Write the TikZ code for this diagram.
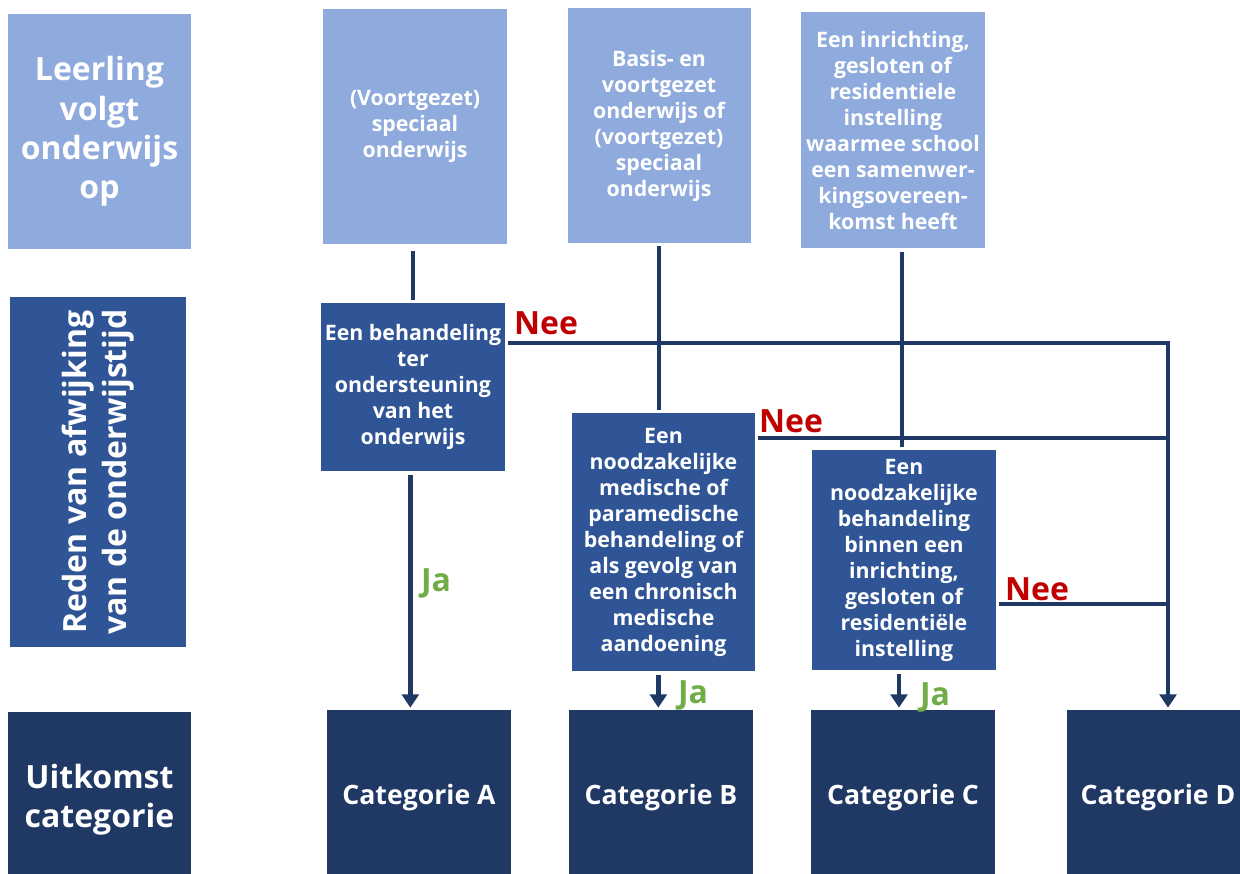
\documentclass[tikz,border=0pt]{standalone}
\usepackage{fontspec}
\setmainfont{Open Sans}
\usetikzlibrary{arrows.meta}
\definecolor{lichtblauw}{HTML}{8FAADC}
\definecolor{middenblauw}{HTML}{2F5597}
\definecolor{donkerblauw}{HTML}{1F3864}
\definecolor{neerood}{HTML}{C00000}
\definecolor{jagroen}{HTML}{70AD47}
\begin{document}
\begin{tikzpicture}[x=0.75pt,y=-0.75pt,
		blok/.style={rectangle, inner sep=0pt, text=white, align=center, font=\bfseries\fontsize{16}{19.5}\selectfont},
		maat/.style 2 args={minimum width=#1*0.75pt, minimum height=#2*0.75pt},
		kop/.style={blok, font=\bfseries\fontsize{24}{29.5}\selectfont},
		cat/.style={blok, fill=donkerblauw, font=\bfseries\fontsize{20}{24}\selectfont},
		lijn/.style={draw=donkerblauw, line width=3.6pt},
		pijl/.style={lijn, -{Triangle[width=12.5pt,length=10pt]}},
		nee/.style={text=neerood, font=\bfseries\fontsize{24}{28}\selectfont, inner sep=0pt},
		ja/.style={text=jagroen, font=\bfseries\fontsize{24}{28}\selectfont, inner sep=0pt}]
	\useasboundingbox (0,0) rectangle (1240,874);
	% linker kolom
	\node[kop, fill=lichtblauw, maat={183}{235}] (volgt) at (99.5,131.5) {Leerling\\volgt\\onderwijs\\op};
	\node[kop, fill=middenblauw, maat={350}{176}, rotate=90] (reden) at (98,472) {Reden van afwijking\\van de onderwijstijd};
	\node[kop, fill=donkerblauw, maat={183}{176}] (uitkomst) at (99.5,800) {Uitkomst\\categorie};
	% onderwijs
	\node[blok, fill=lichtblauw, maat={184}{235}] (vso) at (415,126.5) {(Voortgezet)\\speciaal\\onderwijs};
	\node[blok, fill=lichtblauw, maat={183}{235}] (basis) at (659,125.5) {Basis- en\\voortgezet\\onderwijs of\\(voortgezet)\\speciaal\\onderwijs};
	\node[blok, fill=lichtblauw, maat={184}{236}] (inrichting) at (893,130) {Een inrichting,\\gesloten of\\residentiele\\instelling\\waarmee school\\een samenwer-\\kingsovereen-\\komst heeft};
	% redenen
	\node[blok, fill=middenblauw, maat={184}{168}] (behA) at (413,387) {Een behandeling\\ter\\ondersteuning\\van het\\onderwijs};
	\node[blok, fill=middenblauw, maat={183}{258}] (behB) at (663.5,542) {Een\\noodzakelijke\\medische of\\paramedische\\behandeling of\\als gevolg van\\een chronisch\\medische\\aandoening};
	\node[blok, fill=middenblauw, maat={184}{220}] (behC) at (904,560) {Een\\noodzakelijke\\behandeling\\binnen een\\inrichting,\\gesloten of\\residentiële\\instelling};
	% categorieen
	\node[cat, maat={184}{176}] (catA) at (419,798) {Categorie A};
	\node[cat, maat={184}{176}] (catB) at (661,798) {Categorie B};
	\node[cat, maat={184}{176}] (catC) at (903,798) {Categorie C};
	\node[cat, maat={182}{176}] (catD) at (1158,798) {Categorie D};
	% verbindingen
	\coordinate (hoekA) at (1168,343);
	\coordinate (hoekB) at (1168,438);
	\coordinate (hoekC) at (1168,604);
	\draw[lijn, shorten <=5pt, shorten >=2pt] (vso.south -| behA.north) -- (behA.north);
	\draw[lijn, shorten <=2pt, shorten >=2pt] (basis.south) -- (basis.south |- behB.north);
	\draw[lijn, shorten <=3pt, shorten >=2pt] ([xshift=-1.5pt]behC.north |- inrichting.south) -- ([xshift=-1.5pt]behC.north);
	\draw[pijl, shorten <=3pt, shorten >=1.5pt] ([xshift=-2pt]behA.south) -- ([xshift=-2pt]behA.south |- catA.north);
	\draw[pijl, shorten <=3pt, shorten >=1.5pt] ([xshift=-2pt]catB.north |- behB.south) -- ([xshift=-2pt]catB.north);
	\draw[pijl, shorten <=3pt, shorten >=1.5pt] ([xshift=-3pt]catC.north |- behC.south) -- ([xshift=-3pt]catC.north);
	\draw[lijn, shorten <=2pt] (behA.east |- hoekA) -- (hoekA);
	\draw[lijn, shorten <=2pt] (behB.east |- hoekB) -- (hoekB);
	\draw[lijn, shorten <=2pt] (behC.east |- hoekC) -- (hoekC);
	\draw[pijl, line join=miter, shorten >=1.5pt] ([xshift=-1.8pt]hoekA) -- (hoekA) -- (hoekA |- catD.north);
	% labels
	\node[nee] (neeA) at (546,323) {Nee};
	\node[nee] (neeB) at (791,421) {Nee};
	\node[nee] (neeC) at (1037,589) {Nee};
	\node[ja] (jaA) at (436,583) {Ja};
	\node[ja] (jaB) at (693,695) {Ja};
	\node[ja] (jaC) at (935,697) {Ja};
\end{tikzpicture}
\end{document}
